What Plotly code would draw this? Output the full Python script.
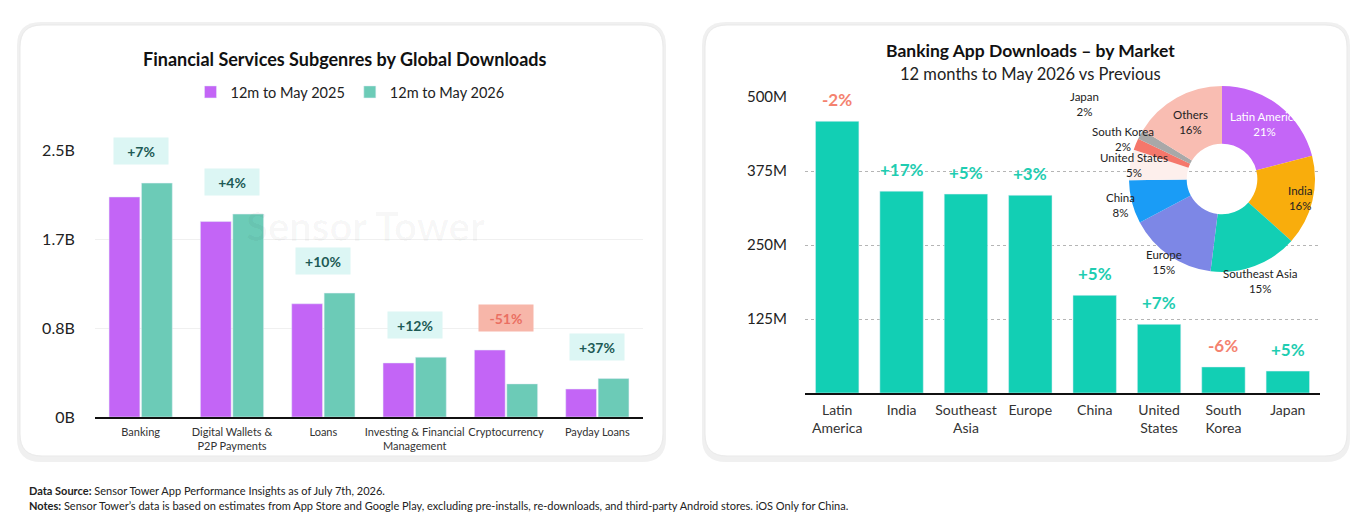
import plotly.graph_objects as go
import math

W, H = 1353, 526
FONT = "Lato"

# ---------------- data ----------------
subgenres = ["Banking", "Digital Wallets &<br>P2P Payments", "Loans",
             "Investing & Financial<br>Management", "Cryptocurrency", "Payday Loans"]
downloads_2025 = [2.06, 1.83, 1.06, 0.506, 0.627, 0.262]   # billions
downloads_2026 = [2.19, 1.90, 1.16, 0.56, 0.31, 0.36]      # billions
subgenre_change = ["+7%", "+4%", "+10%", "+12%", "-51%", "+37%"]
left_ticks = [0, 0.8333, 1.6667, 2.5]
left_tick_text = ["0B", "0.8B", "1.7B", "2.5B"]

markets = ["Latin<br>America", "India", "Southeast<br>Asia", "Europe", "China",
           "United<br>States", "South<br>Korea", "Japan"]
market_downloads = [459, 341, 336, 334, 165, 116, 44, 37]   # millions
market_change = ["-2%", "+17%", "+5%", "+3%", "+5%", "+7%", "-6%", "+5%"]
right_ticks = [125, 250, 375, 500]
right_tick_text = ["125M", "250M", "375M", "500M"]

pie_labels = ["Latin America", "India", "Southeast Asia", "Europe", "China",
              "United States", "South Korea", "Japan", "Others"]
pie_values = [459, 341, 336, 334, 165, 116, 44, 37, 354]

# ---------------- helpers (screen pixels -> paper) ----------------
def px(x):
    return x / W

def py(y):
    return 1 - y / H

def rounded_rect(x0, y0, x1, y1, r):
    pts = [
        f"M {px(x0 + r)} {py(y0)}",
        f"L {px(x1 - r)} {py(y0)}",
        f"Q {px(x1)} {py(y0)} {px(x1)} {py(y0 + r)}",
        f"L {px(x1)} {py(y1 - r)}",
        f"Q {px(x1)} {py(y1)} {px(x1 - r)} {py(y1)}",
        f"L {px(x0 + r)} {py(y1)}",
        f"Q {px(x0)} {py(y1)} {px(x0)} {py(y1 - r)}",
        f"L {px(x0)} {py(y0 + r)}",
        f"Q {px(x0)} {py(y0)} {px(x0 + r)} {py(y0)}",
        "Z",
    ]
    return " ".join(pts)

def text_at(text, x, y, size, color="#222", xanchor="center"):
    return dict(text=text, x=px(x), y=py(y), xref="paper", yref="paper",
                xanchor=xanchor, yanchor="middle", showarrow=False,
                font=dict(size=size, color=color, family=FONT))

PURPLE = "#c365f6"
TEAL_L = "#6ccbb7"
TEAL_R = "#12cfb4"
POS_C = "#1fcdb1"
NEG_C = "#f4826f"

fig = go.Figure()

# ---------------- left chart ----------------
fig.add_trace(go.Bar(x=subgenres, y=downloads_2025, name="12m to May 2025",
                     marker_color=PURPLE, xaxis="x", yaxis="y"))
fig.add_trace(go.Bar(x=subgenres, y=downloads_2026, name="12m to May 2026",
                     marker_color=TEAL_L, xaxis="x", yaxis="y"))

# ---------------- right chart ----------------
fig.add_trace(go.Bar(x=markets, y=market_downloads, marker_color=TEAL_R,
                     showlegend=False, xaxis="x2", yaxis="y2"))

pie_colors = ["#c466f7", "#f9ad0c", "#12cfb4", "#7d87e6", "#1a9cf6",
              "#fdefec", "#f5776b", "#a8a8a8", "#f9bdb2"]
PX0, PX1, PY0, PY1 = 1129, 1315, 86, 272
fig.add_trace(go.Pie(labels=pie_labels, values=pie_values, hole=0.38,
                     sort=False, direction="clockwise", rotation=0,
                     marker=dict(colors=pie_colors, line=dict(color="white", width=0)),
                     textinfo="none", showlegend=False, hoverinfo="label+percent",
                     domain=dict(x=[px(PX0), px(PX1)], y=[py(PY1), py(PY0)])))

annotations = []

# titles
annotations.append(text_at("<b>Financial Services Subgenres by Global Downloads</b>", 345, 59, 18, "#111"))
annotations.append(text_at("<b>Banking App Downloads – by Market</b>", 1030, 50, 17.5, "#111"))
annotations.append(text_at("12 months to May 2026 vs Previous", 1030, 74, 16.5, "#222"))

# watermarks
annotations.append(text_at("<b>Sensor Tower</b>", 365, 226, 40, "rgba(0,0,0,0.03)"))
annotations.append(text_at("<b>Sensor Tower</b>", 975, 215, 40, "rgba(0,0,0,0.025)"))

# left change boxes
for cat, a, b, t in zip(subgenres, downloads_2025, downloads_2026, subgenre_change):
    neg = t.startswith("-")
    annotations.append(dict(text=f"<b>{t}</b>", x=cat, y=max(a, b), xref="x", yref="y",
                            xanchor="center", yanchor="bottom", yshift=18, showarrow=False,
                            width=50, height=22, borderpad=2,
                            bgcolor="#f7b6a9" if neg else "#dcf6f4",
                            font=dict(size=14, color="#ea6f62" if neg else "#1d5a55", family=FONT)))

# right change labels
for cat, v, t in zip(markets, market_downloads, market_change):
    neg = t.startswith("-")
    annotations.append(dict(text=f"<b>{t}</b>", x=cat, y=v, xref="x2", yref="y2",
                            xanchor="center", yanchor="bottom", yshift=9, showarrow=False,
                            font=dict(size=17, color=NEG_C if neg else POS_C, family=FONT)))

# pie labels at slice mid-angles
label_radius = [0.75, 0.86, 1.17, 1.09, 1.13, 0.96, 1.15, 1.69, 0.70]
total = sum(pie_values)
cx, cy, R = (PX0 + PX1) / 2, (PY0 + PY1) / 2, (PX1 - PX0) / 2
cum = 0
for lab, v, rf in zip(pie_labels, pie_values, label_radius):
    mid = (cum + v / 2) / total
    cum += v
    th = 2 * math.pi * mid
    lx = cx + rf * R * math.sin(th)
    ly = cy - rf * R * math.cos(th)
    pct = round(v / total * 100)
    annotations.append(text_at(f"{lab}<br>{pct}%", lx, ly, 11.5,
                               "white" if lab == "Latin America" else "#222"))

# footer
annotations.append(text_at("<b>Data Source:</b> Sensor Tower App Performance Insights as of July 7th, 2026.",
                           27, 490, 11, "#222", xanchor="left"))
annotations.append(text_at("<b>Notes:</b> Sensor Tower’s data is based on estimates from App Store and Google Play, "
                           "excluding pre-installs, re-downloads, and third-party Android stores. iOS Only for China.",
                           27, 505, 11, "#222", xanchor="left"))

# cards
shapes = []
for (x0, y0, x1, y1) in [(20, 25, 663, 456), (705, 25, 1347, 456)]:
    shapes.append(dict(type="path", path=rounded_rect(x0 - 3, y0 - 3, x1 + 3, y1 + 6, 24),
                       xref="paper", yref="paper", fillcolor="#f0f0f0",
                       line=dict(width=0), layer="below"))
    shapes.append(dict(type="path", path=rounded_rect(x0, y0, x1, y1, 22),
                       xref="paper", yref="paper", fillcolor="white",
                       line=dict(color="#e9e9e9", width=1), layer="below"))

fig.update_layout(
    width=W, height=H, margin=dict(l=0, r=0, t=0, b=0, pad=0, autoexpand=False), autosize=False,
    paper_bgcolor="white", plot_bgcolor="rgba(0,0,0,0)",
    font=dict(family=FONT, color="#222"),
    barmode="group", bargap=0.29, bargroupgap=0.05,
    showlegend=True,
    legend=dict(orientation="h", x=px(350), xanchor="center", y=py(92), yanchor="middle",
                font=dict(size=14.5, color="#222", family=FONT), bgcolor="rgba(0,0,0,0)",
                itemwidth=30, traceorder="normal"),
    xaxis=dict(domain=[px(95), px(643)], anchor="y", showline=True, linecolor="#111",
               linewidth=1.5, ticks="outside", ticklen=4, tickcolor="rgba(0,0,0,0)", tickangle=0,
               tickfont=dict(size=11, color="#333"), fixedrange=True, automargin=False),
    yaxis=dict(domain=[py(417), py(150)], anchor="x", range=[0, 2.5],
               tickvals=left_ticks, ticktext=left_tick_text, showgrid=True,
               gridcolor="#f0f0f0", gridwidth=1, zeroline=False, automargin=False,
               ticks="outside", ticklen=16, tickcolor="rgba(0,0,0,0)",
               tickfont=dict(size=16, color="#222")),
    xaxis2=dict(domain=[px(805), px(1320)], anchor="y2", showline=True, linecolor="#111",
                linewidth=1.5, ticks="outside", ticklen=3, tickcolor="rgba(0,0,0,0)", tickangle=0,
                tickfont=dict(size=14, color="#333"), automargin=False),
    yaxis2=dict(domain=[py(393), py(97)], anchor="x2", range=[0, 500],
                tickvals=right_ticks, ticktext=right_tick_text, showgrid=True,
                gridcolor="#b5b5b5", griddash="dot", gridwidth=1, zeroline=False, automargin=False,
                ticks="outside", ticklen=14, tickcolor="rgba(0,0,0,0)",
                tickfont=dict(size=15, color="#222")),
    annotations=annotations, shapes=shapes,
)

fig.write_html("out.html")
